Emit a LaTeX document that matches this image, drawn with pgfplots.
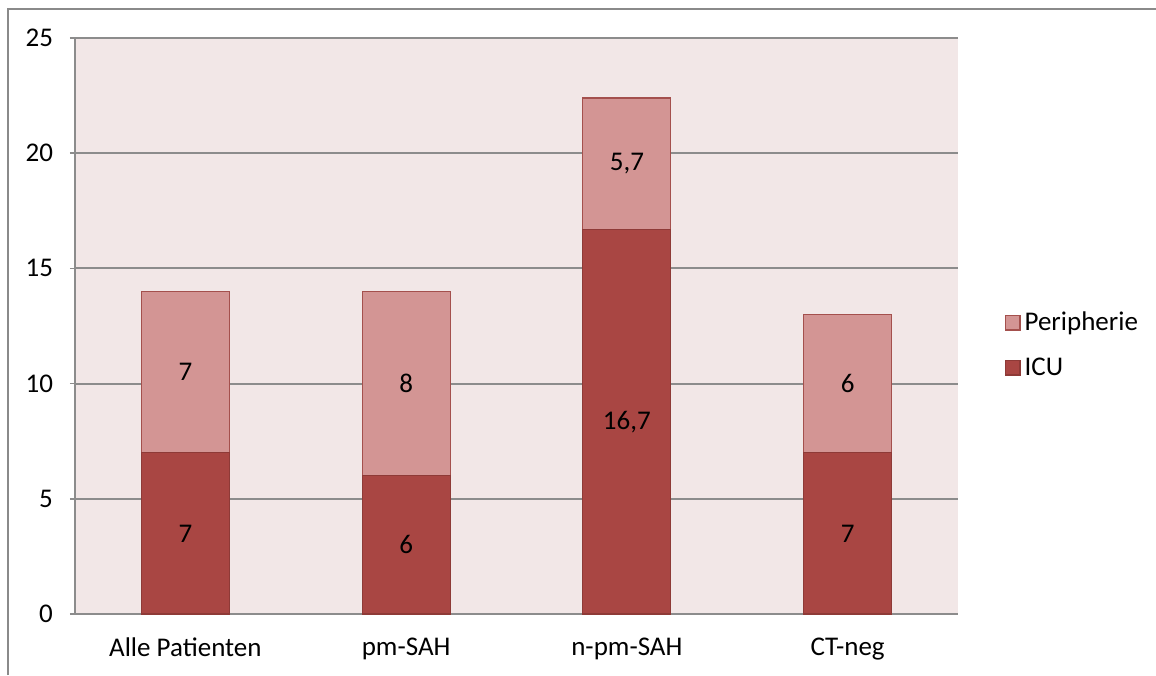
\documentclass[border=0pt]{standalone}
\usepackage{fontspec}
\setmainfont{Carlito}
\usepackage{pgfplots}
\pgfplotsset{compat=1.18}

\definecolor{icu}{HTML}{A94643}
\definecolor{icuedge}{HTML}{8E3A37}
\definecolor{peri}{HTML}{D39594}
\definecolor{periedge}{HTML}{A4504D}
\definecolor{plotbg}{HTML}{F2E7E7}
\definecolor{gridgray}{HTML}{8C8C8C}
\definecolor{framegray}{HTML}{8A8A8A}

\newcommand{\lblfont}{\fontsize{13.5}{16}\selectfont}

\begin{document}
\begin{tikzpicture}
  % picture frame (578pt x 337.5pt)
  \useasboundingbox (0pt,0pt) rectangle (578pt,337.5pt);
  \draw[framegray, line width=0.9pt] (4pt,0pt) -- (4pt,333pt) -- (578pt,333pt);

  \begin{axis}[
    at={(37.5pt,30.5pt)}, anchor=south west,
    scale only axis,
    width=441.5pt, height=288pt,
    ybar stacked,
    bar width=44pt,
    xmin=-0.5, xmax=3.5,
    ymin=0, ymax=25,
    ytick={0,5,10,15,20,25},
    xtick={0,1,2,3},
    xticklabels={Alle Patienten, pm-SAH, n-pm-SAH, CT-neg},
    minor xtick={-0.5,0.5,1.5,2.5,3.5},
    xtick style={draw=none},
    minor tick length=3pt,
    major tick length=2.5pt,
    tick align=outside,
    tick style={gridgray, line width=0.7pt},
    minor tick style={gridgray, line width=0.7pt},
    axis x line*=bottom,
    axis y line*=left,
    axis line style={gridgray, line width=0.9pt, -},
    ymajorgrids,
    major grid style={gridgray, line width=0.9pt},
    axis background/.style={fill=plotbg},
    ticklabel style={font=\lblfont},
    yticklabel style={xshift=-5pt},
    xticklabel style={yshift=-6pt},
    /pgf/number format/assume math mode=true,
    legend style={
      at={(rel axis cs:1.046,0.467)}, anchor=west,
      draw=none, fill=none,
      font=\lblfont,
      row sep=8pt,
    },
    legend cell align=left,
    reverse legend,
    legend image code/.code={
      \draw[#1, line width=0.6pt] (0pt,-3.6pt) rectangle (7.2pt,3.6pt);
    },
    % segment values, centred in each segment (drawn after the stacked bars)
    after end axis/.code={
      \node[font=\lblfont] at (axis cs:0,3.5)   {7};
      \node[font=\lblfont] at (axis cs:1,3)     {6};
      \node[font=\lblfont] at (axis cs:2,8.35)  {16,7};
      \node[font=\lblfont] at (axis cs:3,3.5)   {7};
      \node[font=\lblfont] at (axis cs:0,10.5)  {7};
      \node[font=\lblfont] at (axis cs:1,10)    {8};
      \node[font=\lblfont] at (axis cs:2,19.55) {5,7};
      \node[font=\lblfont] at (axis cs:3,10)    {6};
    },
  ]
    \addplot[fill=icu, draw=icuedge, line width=0.6pt]
      coordinates {(0,7) (1,6) (2,16.7) (3,7)};
    \addlegendentry{ICU}
    \addplot[fill=peri, draw=periedge, line width=0.6pt]
      coordinates {(0,7) (1,8) (2,5.7) (3,6)};
    \addlegendentry{Peripherie}
  \end{axis}
\end{tikzpicture}
\end{document}
